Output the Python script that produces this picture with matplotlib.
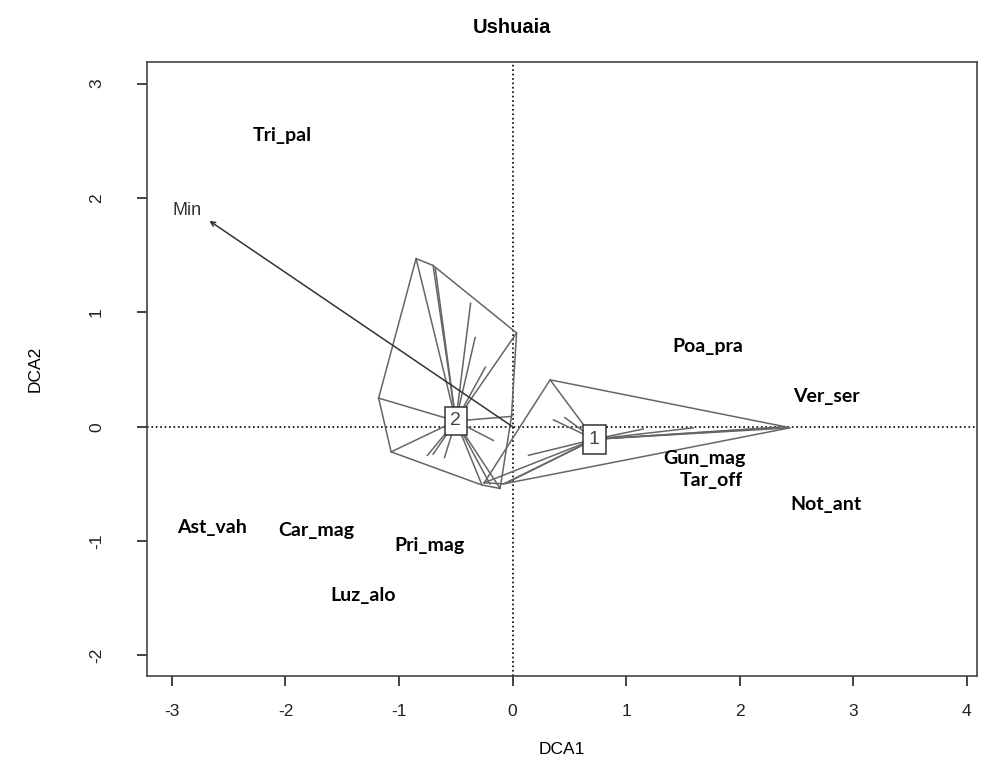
import numpy as np
import matplotlib
matplotlib.use('Agg')
import matplotlib.pyplot as plt

plt.rcParams['font.family'] = ['Liberation Sans', 'DejaVu Sans']

# species scores (DCA1, DCA2)
species = ['Tri_pal', 'Poa_pra', 'Ver_ser', 'Gun_mag', 'Tar_off', 'Not_ant',
           'Ast_vah', 'Car_mag', 'Pri_mag', 'Luz_alo']
sp_x = [-2.03, 1.72, 2.76, 1.69, 1.75, 2.76, -2.65, -1.73, -0.73, -1.32]
sp_y = [2.55, 0.70, 0.26, -0.28, -0.47, -0.68, -0.88, -0.91, -1.04, -1.48]

# environmental vector
env_name = 'Min'
env_x = -2.67
env_y = 1.80

# site scores by group
g1_x = [0.33, 2.44, 2.40, 2.30, 1.59, 1.15, 0.36, 0.46, 0.14, -0.25, -0.03, -0.08]
g1_y = [0.41, -0.01, 0.00, -0.01, -0.01, -0.02, 0.06, 0.08, -0.25, -0.49, -0.48, -0.50]
g2_x = [-0.85, -0.70, -0.68, 0.035, -0.37, -0.33, -0.24, -0.01, -0.17, -0.11,
        -0.27, -0.20, -0.75, -0.70, -0.60, -1.07, -1.18]
g2_y = [1.47, 1.41, 1.38, 0.82, 1.08, 0.78, 0.52, 0.09, -0.12, -0.54,
        -0.51, -0.50, -0.25, -0.24, -0.27, -0.22, 0.25]
groups = ['1', '2']
cent_x = [0.72, -0.50]
cent_y = [-0.11, 0.05]


def hull(pts):
    pts = sorted(set(pts))
    def cross(o, a, b):
        return (a[0]-o[0])*(b[1]-o[1]) - (a[1]-o[1])*(b[0]-o[0])
    lower, upper = [], []
    for p in pts:
        while len(lower) >= 2 and cross(lower[-2], lower[-1], p) <= 0:
            lower.pop()
        lower.append(p)
    for p in reversed(pts):
        while len(upper) >= 2 and cross(upper[-2], upper[-1], p) <= 0:
            upper.pop()
        upper.append(p)
    return lower[:-1] + upper[:-1]


fig = plt.figure(figsize=(9.81, 7.74), dpi=100)
ax = fig.add_axes([0.1498, 0.1266, 0.8462, 0.7934])
ax.set_xlim(-3.22, 4.09)
ax.set_ylim(-2.18, 3.19)

ax.axhline(0, color='black', ls=':', lw=1.2, zorder=1)
ax.axvline(0, color='black', ls=':', lw=1.2, zorder=1)

lc = '#666666'
for gx, gy, cx, cy, lab in [(g1_x, g1_y, cent_x[0], cent_y[0], groups[0]),
                            (g2_x, g2_y, cent_x[1], cent_y[1], groups[1])]:
    for x, y in zip(gx, gy):
        ax.plot([cx, x], [cy, y], color=lc, lw=1.1, zorder=2)
    h = hull(list(zip(gx, gy)))
    hx = [p[0] for p in h] + [h[0][0]]
    hy = [p[1] for p in h] + [h[0][1]]
    ax.plot(hx, hy, color=lc, lw=1.1, zorder=2)
    ax.text(cx, cy, lab, ha='center', va='center', fontsize=14, color='#444444',
            zorder=5, bbox=dict(boxstyle='square,pad=0.3', fc='white', ec='#333333', lw=1.1))

ax.annotate('', xy=(env_x, env_y), xytext=(0, 0),
            arrowprops=dict(arrowstyle='->', color='#333333', lw=1.1,
                            shrinkA=0, shrinkB=0, mutation_scale=8), zorder=3)
ax.text(env_x - 0.2, env_y + 0.09, env_name, ha='center', va='center',
        fontsize=13, color='#333333')

for name, x, y in zip(species, sp_x, sp_y):
    ax.text(x, y, name, ha='center', va='center', fontsize=14,
            fontweight='bold', family=['Lato', 'DejaVu Sans'], color='black', zorder=6)

ax.set_xticks(range(-3, 5))
ax.set_xticklabels([str(v) for v in range(-3, 5)])
ax.set_yticks(range(-2, 4))
ax.set_yticklabels([str(v) for v in range(-2, 4)], rotation=90, va='center')
ax.tick_params(direction='out', length=7, width=1.2, labelsize=12.5, colors='#222222')
ax.tick_params(axis='x', pad=13)
ax.tick_params(axis='y', pad=24)
for s in ax.spines.values():
    s.set_color('#444444')
    s.set_linewidth(1.2)

ax.set_xlabel('DCA1', fontsize=12.5, labelpad=17)
ax.set_ylabel('DCA2', fontsize=12.5, labelpad=33)
fig.text(0.5215, 0.964, 'Ushuaia', ha='center', va='center', fontsize=14.5, fontweight='bold')

fig.savefig('out.png', dpi=100)
